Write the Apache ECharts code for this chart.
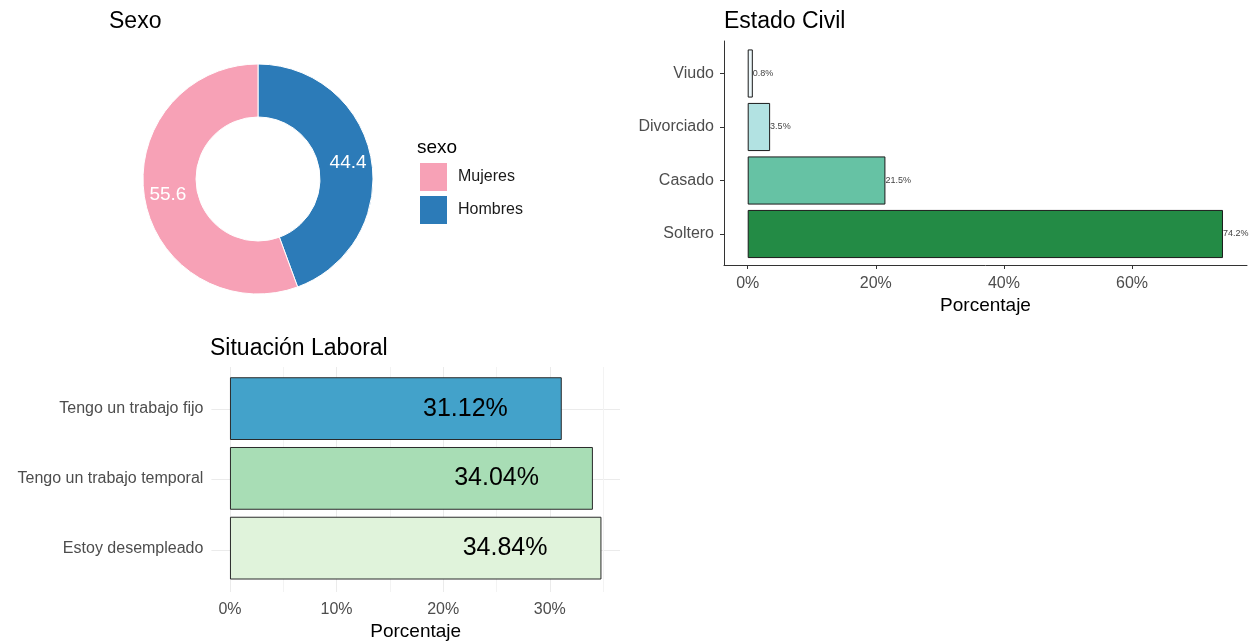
<!DOCTYPE html>
<html>
<head>
<meta charset="utf-8">
<script src="https://cdn.jsdelivr.net/npm/echarts@6/dist/echarts.min.js"></script>
<style>
html,body{margin:0;padding:0;background:#fff;}
#chart{width:1250px;height:642px;}
</style>
</head>
<body>
<div id="chart"></div>
<script>
// ---- Data ----
const sexoCategories = ['Hombres', 'Mujeres'];
const sexoValues = [44.4, 55.6];
const sexoLegendOrder = ['Mujeres', 'Hombres'];

const civilCategories = ['Soltero', 'Casado', 'Divorciado', 'Viudo'];
const civilValues = [74.2, 21.5, 3.5, 0.8];
const civilTicks = [0, 20, 40, 60];

const laboralCategories = ['Estoy desempleado', 'Tengo un trabajo temporal', 'Tengo un trabajo fijo'];
const laboralValues = [34.84, 34.04, 31.12];
const laboralTicks = [0, 10, 20, 30];

// ---- Styles ----
const FONT = 'Liberation Sans, Arial, sans-serif';
const sexoColors = { Hombres: '#2C7BB8', Mujeres: '#F7A1B6' };
const civilColors = ['#238B45', '#66C2A4', '#B2E2E2', '#EDF8FB'];
const laboralColors = ['#E0F3DB', '#A8DDB5', '#43A2CA'];

const civilMin = -3.7, civilMax = 77.95;
const labMin = -1.74, labMax = 36.58;

// pixel geometry of the Situación Laboral panel
const labLeft = 211.4, labRightEdge = 620;
const labPxPerUnit = (labRightEdge - labLeft) / (labMax - labMin);
const labZeroX = labLeft - labMin * labPxPerUnit;

const chart = echarts.init(document.getElementById('chart'), null, { renderer: 'canvas' });

const titleStyle = { fontFamily: FONT, fontSize: 23, fontWeight: 'normal', color: '#000' };
const tickFont = { fontFamily: FONT, fontSize: 16, color: '#4d4d4d' };
const nameFont = { fontFamily: FONT, fontSize: 19, color: '#000' };
const hiddenAxis = { axisLine: { show: false }, axisTick: { show: false }, axisLabel: { show: false } };

const option = {
  animation: false,
  backgroundColor: '#ffffff',
  textStyle: { fontFamily: FONT },
  title: [
    { text: 'Sexo', left: 109, top: 10, padding: 0, textStyle: titleStyle },
    { text: 'sexo', left: 417, top: 138, padding: 0, textStyle: { fontFamily: FONT, fontSize: 19, fontWeight: 'normal', color: '#000' } },
    { text: 'Estado Civil', left: 724, top: 10, padding: 0, textStyle: titleStyle },
    { text: 'Situación Laboral', left: 210, top: 337, padding: 0, textStyle: titleStyle }
  ],
  legend: {
    data: sexoLegendOrder,
    orient: 'vertical',
    left: 418, top: 161,
    padding: 0,
    itemWidth: 29, itemHeight: 30, itemGap: 1,
    icon: 'rect',
    selectedMode: false,
    textStyle: { fontFamily: FONT, fontSize: 16, color: '#1a1a1a', padding: [0, 0, 0, 5] }
  },
  grid: [
    // 0: Estado Civil bars
    { left: 724, right: 3, top: 46.75, height: 214 },
    // 1: Estado Civil frame
    { left: 724, right: 3, top: 41, height: 224 },
    // 2: Situación Laboral bars
    { left: labLeft, right: 1250 - labRightEdge, top: 373.75, height: 211.5 },
    // 3: Situación Laboral major vertical grid lines (0..30)
    { left: labZeroX, width: 30 * labPxPerUnit, top: 367, height: 225 },
    // 4: Situación Laboral minor vertical grid lines (5..35)
    { left: labZeroX + 5 * labPxPerUnit, width: 30 * labPxPerUnit, top: 367, height: 225 },
    // 5: Situación Laboral horizontal grid lines at category centres
    { left: labLeft, right: 1250 - labRightEdge, top: 373.75 + 211.5 / 6, height: 211.5 * 2 / 3 }
  ],
  xAxis: [
    { gridIndex: 0, type: 'value', min: civilMin, max: civilMax, show: false },
    { gridIndex: 1, type: 'value', min: civilMin, max: civilMax,
      axisLine: { show: true, onZero: false, lineStyle: { color: '#333', width: 1 } },
      axisTick: { show: true, length: 4, customValues: civilTicks, lineStyle: { color: '#333' } },
      axisLabel: Object.assign({ customValues: civilTicks, formatter: '{value}%', margin: 11 }, tickFont),
      splitLine: { show: false },
      name: 'Porcentaje', nameLocation: 'middle', nameGap: 31,
      nameTextStyle: nameFont },
    { gridIndex: 2, type: 'value', min: labMin, max: labMax,
      axisLine: { show: false, onZero: false },
      axisTick: { show: false, customValues: laboralTicks },
      axisLabel: Object.assign({ customValues: laboralTicks, formatter: '{value}%', margin: 19 }, tickFont),
      splitLine: { show: false },
      name: 'Porcentaje', nameLocation: 'middle', nameGap: 39,
      nameTextStyle: nameFont },
    Object.assign({ gridIndex: 3, type: 'value', min: 0, max: 30, interval: 10,
      splitLine: { show: true, lineStyle: { color: '#EBEBEB', width: 1 } } }, hiddenAxis),
    Object.assign({ gridIndex: 4, type: 'value', min: 5, max: 35, interval: 10,
      splitLine: { show: true, lineStyle: { color: '#F3F3F3', width: 1 } } }, hiddenAxis),
    Object.assign({ gridIndex: 5, type: 'value', min: 0, max: 1, splitLine: { show: false } }, hiddenAxis)
  ],
  yAxis: [
    { gridIndex: 0, type: 'category', data: civilCategories,
      axisLine: { show: false, onZero: false },
      axisTick: { show: true, alignWithLabel: true, length: 4, lineStyle: { color: '#333' } },
      axisLabel: Object.assign({ margin: 10 }, tickFont) },
    { gridIndex: 1, type: 'value', min: 0, max: 1,
      axisLine: { show: true, onZero: false, lineStyle: { color: '#333', width: 1 } },
      axisTick: { show: false }, axisLabel: { show: false }, splitLine: { show: false } },
    { gridIndex: 2, type: 'category', data: laboralCategories,
      axisLine: { show: false, onZero: false },
      axisTick: { show: false },
      axisLabel: Object.assign({ margin: 8 }, tickFont) },
    Object.assign({ gridIndex: 3, type: 'value', min: 0, max: 1, splitLine: { show: false } }, hiddenAxis),
    Object.assign({ gridIndex: 4, type: 'value', min: 0, max: 1, splitLine: { show: false } }, hiddenAxis),
    Object.assign({ gridIndex: 5, type: 'value', min: 0, max: 2, interval: 1,
      splitLine: { show: true, lineStyle: { color: '#EBEBEB', width: 1 } } }, hiddenAxis)
  ],
  series: [
    {
      type: 'pie',
      center: [258, 179],
      radius: [62, 115],
      startAngle: 90,
      clockwise: true,
      avoidLabelOverlap: false,
      data: sexoCategories.map((c, i) => ({ name: c, value: sexoValues[i], itemStyle: { color: sexoColors[c] } })),
      itemStyle: { borderColor: '#fff', borderWidth: 1 },
      label: { show: true, position: 'inside', formatter: '{c}', color: '#fff', fontFamily: FONT, fontSize: 19 },
      labelLine: { show: false },
      emphasis: { disabled: true }
    },
    {
      type: 'bar', xAxisIndex: 0, yAxisIndex: 0,
      barWidth: '90%',
      data: civilValues.map((v, i) => ({ value: v, itemStyle: { color: civilColors[i] } })),
      itemStyle: { borderColor: '#1a1a1a', borderWidth: 1 },
      label: { show: true, position: 'right', distance: 0, formatter: p => p.value + '%', fontFamily: FONT, fontSize: 9, color: '#444' },
      emphasis: { disabled: true }
    },
    {
      type: 'bar', xAxisIndex: 2, yAxisIndex: 2,
      barWidth: '90%',
      data: laboralValues.map((v, i) => ({ value: v, itemStyle: { color: laboralColors[i] } })),
      itemStyle: { borderColor: '#2a2a2a', borderWidth: 1 },
      label: { show: true, position: 'insideRight', distance: 54, formatter: p => p.value.toFixed(2) + '%', fontFamily: FONT, fontSize: 25, color: '#000' },
      emphasis: { disabled: true },
      z: 3
    }
  ]
};
chart.setOption(option);
</script>
</body>
</html>
